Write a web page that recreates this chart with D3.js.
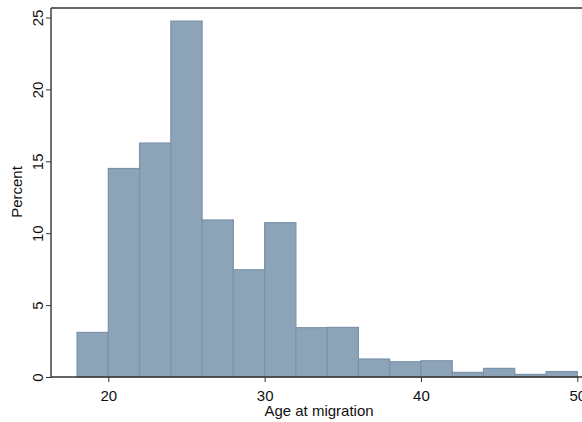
<!DOCTYPE html>
<html><head><meta charset="utf-8">
<script src="https://cdn.jsdelivr.net/npm/d3@7"></script>
<style>body{margin:0;background:#fff;} text{font-family:"Liberation Sans",Arial,sans-serif;}</style>
</head><body>
<svg id="c" width="582" height="422"></svg>
<script>
const binStarts = [18,20,22,24,26,28,30,32,34,36,38,40,42,44,46,48];
const binWidth = 2;
const percents = [3.1,14.5,16.27,24.75,10.92,7.46,10.73,3.43,3.45,1.25,1.06,1.13,0.32,0.6,0.18,0.38];
const xTicks = [20,30,40,50];
const yTicks = [0,5,10,15,20,25];

(function(){
const svg = d3.select("#c");
const x = d3.scaleLinear().domain([20,50]).range([108.3,577.3]);
const y = d3.scaleLinear().domain([0,25]).range([377,17.5]);
const pl = 51, pt = 8, pr = 590, pb = 377;

// frame
svg.append("line").attr("x1",pl).attr("x2",pr).attr("y1",pt).attr("y2",pt)
  .attr("stroke","#333").attr("stroke-width",1.4);
svg.append("line").attr("x1",pr).attr("x2",pr).attr("y1",pt).attr("y2",pb)
  .attr("stroke","#333").attr("stroke-width",1.4);

// bars
svg.append("g").selectAll("rect").data(binStarts).join("rect")
  .attr("x",(d)=>x(d))
  .attr("width",(d)=>x(d+binWidth)-x(d))
  .attr("y",(d,i)=>y(percents[i]))
  .attr("height",(d,i)=>y(0)-y(percents[i]))
  .attr("fill","#8ca3b8").attr("stroke","#7b93aa").attr("stroke-width",1.2);

// y axis
const ya = svg.append("g").attr("transform",`translate(${pl},0)`)
  .call(d3.axisLeft(y).tickValues(yTicks).tickSize(5).tickFormat(d3.format("d")));
ya.select(".domain").attr("stroke","#333").attr("stroke-width",1.4).attr("d",`M0,${pt}V${pb}`);
ya.selectAll(".tick line").attr("stroke","#333");
ya.selectAll(".tick text").attr("font-size",15).attr("fill","#111")
  .attr("text-anchor","middle").attr("x",0).attr("dy",0)
  .attr("transform","translate(-8,0) rotate(-90)").attr("y",0);

// x axis
const xa = svg.append("g").attr("transform",`translate(0,${pb})`)
  .call(d3.axisBottom(x).tickValues(xTicks).tickSize(5).tickFormat(d3.format("d")));
xa.select(".domain").attr("stroke","#333").attr("stroke-width",1.4).attr("d",`M${pl},0H${pr}`);
xa.selectAll(".tick line").attr("stroke","#333");
xa.selectAll(".tick text").attr("font-size",15).attr("fill","#111").attr("y",13).attr("dy","0.71em");

// titles
svg.append("text").attr("x",319).attr("y",416).attr("text-anchor","middle")
  .attr("font-size",15).attr("fill","#111").text("Age at migration");
svg.append("text").attr("transform","translate(22,192) rotate(-90)").attr("text-anchor","middle")
  .attr("font-size",15).attr("fill","#111").text("Percent");
})();
</script>
</body></html>
